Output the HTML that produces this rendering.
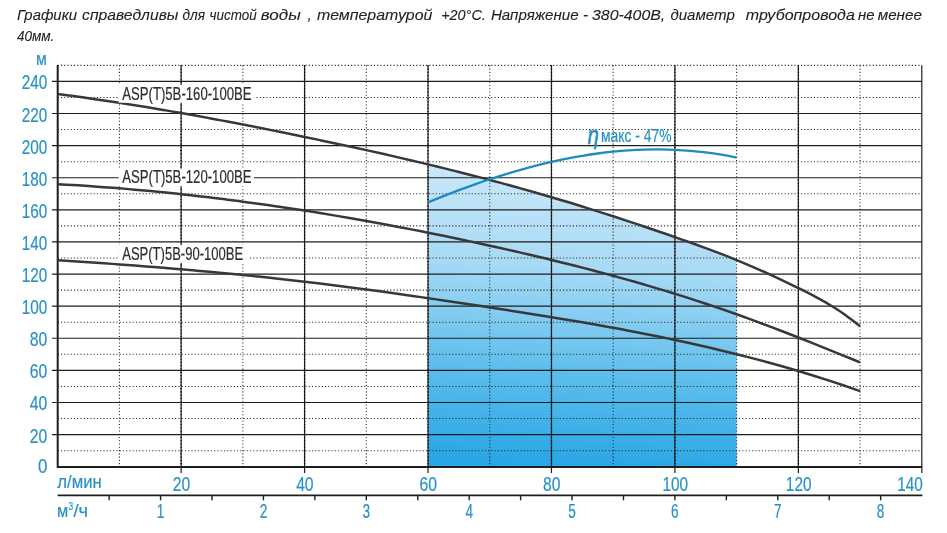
<!DOCTYPE html>
<html lang="ru"><head><meta charset="utf-8"><title>ASP(T)5B</title>
<style>html,body{margin:0;padding:0;background:#fff;}body{width:947px;height:533px;overflow:hidden;font-family:"Liberation Sans",sans-serif;}svg{display:block;will-change:transform;}</style>
</head><body>
<svg width="947" height="533" viewBox="0 0 947 533">
<defs><linearGradient id="g" x1="590" y1="160" x2="570" y2="468" gradientUnits="userSpaceOnUse"><stop offset="0" stop-color="#d0eaf9"/><stop offset="0.35" stop-color="#a7daf5"/><stop offset="0.7" stop-color="#5cbdec"/><stop offset="1" stop-color="#28a6e5"/></linearGradient></defs>
<rect width="947" height="533" fill="#fff"/>
<path d="M428.03 164.37C433.17 165.63 438.32 166.86 443.46 168.13C448.6 169.4 453.75 170.68 458.89 171.98C464.03 173.27 469.18 174.58 474.32 175.91C479.46 177.24 484.61 178.59 489.75 179.95C494.89 181.31 500.04 182.69 505.18 184.09C510.32 185.49 515.47 186.91 520.61 188.34C525.75 189.78 530.9 191.23 536.04 192.71C541.18 194.18 546.33 195.68 551.47 197.19C556.61 198.71 561.76 200.24 566.9 201.8C572.05 203.35 577.19 204.93 582.33 206.52C587.48 208.11 592.62 209.73 597.76 211.36C602.91 212.99 608.05 214.64 613.19 216.31C618.34 217.97 623.48 219.66 628.62 221.36C633.77 223.06 638.91 224.78 644.05 226.51C649.2 228.24 654.34 229.99 659.48 231.76C664.63 233.52 669.77 235.3 674.91 237.09C680.06 238.89 685.2 240.69 690.34 242.53C695.49 244.37 700.63 246.22 705.77 248.12C710.92 250.02 716.06 251.95 721.21 253.95C726.35 255.94 731.49 258.03 736.64 260.08L736.64 466.7 L428.03 466.7 Z" fill="url(#g)"/>
<g stroke="#262626" stroke-width="1.05" stroke-dasharray="1.1 2.16" fill="none"><path d="M57.7 450.65H921.8"/><path d="M57.7 418.54H921.8"/><path d="M57.7 386.43H921.8"/><path d="M57.7 354.32H921.8"/><path d="M57.7 322.21H921.8"/><path d="M57.7 290.1H921.8"/><path d="M57.7 258H921.8"/><path d="M57.7 225.89H921.8"/><path d="M57.7 193.78H921.8"/><path d="M57.7 161.67H921.8"/><path d="M57.7 129.56H921.8"/><path d="M57.7 97.45H921.8"/><path d="M57.7 65.35H921.8"/><path d="M119.42 65.35V466.7"/><path d="M242.86 65.35V466.7"/><path d="M366.31 65.35V466.7"/><path d="M489.75 65.35V466.7"/><path d="M613.19 65.35V466.7"/><path d="M736.64 65.35V466.7"/><path d="M860.08 65.35V466.7"/></g>
<g stroke="#1e1e1e" stroke-width="1.2" fill="none"><path d="M52 434.59H921.8"/><path d="M52 402.48H921.8"/><path d="M52 370.38H921.8"/><path d="M52 338.27H921.8"/><path d="M52 306.16H921.8"/><path d="M52 274.05H921.8"/><path d="M52 241.94H921.8"/><path d="M52 209.83H921.8"/><path d="M52 177.73H921.8"/><path d="M52 145.62H921.8"/><path d="M52 113.51H921.8"/><path d="M52 81.4H921.8"/><path d="M181.14 65.35V473"/><path d="M304.59 65.35V473"/><path d="M428.03 65.35V473"/><path d="M551.47 65.35V473"/><path d="M674.91 65.35V473"/><path d="M798.36 65.35V473"/><path d="M921.8 65.35V473"/></g>
<g stroke="#111" stroke-width="1.4" stroke-dasharray="1.1 2.16" fill="none"><path d="M181.14 65.35V466.7"/><path d="M304.59 65.35V466.7"/><path d="M428.03 65.35V466.7"/><path d="M551.47 65.35V466.7"/><path d="M674.91 65.35V466.7"/><path d="M798.36 65.35V466.7"/></g>
<path d="M57.7 65.05V466.9H922.4" stroke="#1e1e1e" stroke-width="2" fill="none"/>
<path d="M57.7 495.3H922.4" stroke="#1e1e1e" stroke-width="1.8" fill="none"/>
<g stroke="#1e1e1e" stroke-width="1.4" fill="none"><path d="M109.13 495.3V500.3"/><path d="M160.57 495.3V500.3"/><path d="M212 495.3V500.3"/><path d="M263.44 495.3V500.3"/><path d="M314.87 495.3V500.3"/><path d="M366.31 495.3V500.3"/><path d="M417.74 495.3V500.3"/><path d="M469.18 495.3V500.3"/><path d="M520.61 495.3V500.3"/><path d="M572.05 495.3V500.3"/><path d="M623.48 495.3V500.3"/><path d="M674.91 495.3V500.3"/><path d="M726.35 495.3V500.3"/><path d="M777.78 495.3V500.3"/><path d="M829.22 495.3V500.3"/><path d="M880.65 495.3V500.3"/></g>
<g stroke="#38383a" stroke-width="2.5" fill="none" stroke-linecap="butt"><path d="M57.7 94.04C62.84 94.72 67.99 95.38 73.13 96.08C78.27 96.78 83.42 97.5 88.56 98.23C93.7 98.96 98.85 99.71 103.99 100.48C109.13 101.24 114.28 102.02 119.42 102.82C124.56 103.62 129.71 104.43 134.85 105.25C140 106.08 145.14 106.92 150.28 107.77C155.43 108.63 160.57 109.5 165.71 110.38C170.86 111.26 176 112.16 181.14 113.06C186.29 113.97 191.43 114.89 196.57 115.82C201.72 116.76 206.86 117.7 212 118.66C217.15 119.61 222.29 120.58 227.43 121.56C232.58 122.53 237.72 123.52 242.86 124.52C248.01 125.52 253.15 126.53 258.29 127.54C263.44 128.56 268.58 129.59 273.72 130.62C278.87 131.66 284.01 132.7 289.16 133.75C294.3 134.8 299.44 135.86 304.59 136.93C309.73 138 314.87 139.07 320.02 140.15C325.16 141.24 330.3 142.33 335.45 143.43C340.59 144.53 345.73 145.64 350.88 146.75C356.02 147.87 361.16 149 366.31 150.14C371.45 151.28 376.59 152.43 381.74 153.59C386.88 154.75 392.02 155.92 397.17 157.11C402.31 158.3 407.45 159.49 412.6 160.7C417.74 161.91 422.89 163.14 428.03 164.37C433.17 165.61 438.32 166.86 443.46 168.13C448.6 169.4 453.75 170.68 458.89 171.98C464.03 173.27 469.18 174.58 474.32 175.91C479.46 177.24 484.61 178.59 489.75 179.95C494.89 181.31 500.04 182.69 505.18 184.09C510.32 185.49 515.47 186.91 520.61 188.34C525.75 189.78 530.9 191.23 536.04 192.71C541.18 194.18 546.33 195.68 551.47 197.19C556.61 198.71 561.76 200.24 566.9 201.8C572.05 203.35 577.19 204.93 582.33 206.52C587.48 208.11 592.62 209.73 597.76 211.36C602.91 212.99 608.05 214.64 613.19 216.31C618.34 217.97 623.48 219.66 628.62 221.36C633.77 223.06 638.91 224.78 644.05 226.51C649.2 228.24 654.34 229.99 659.48 231.76C664.63 233.52 669.77 235.3 674.91 237.09C680.06 238.89 685.2 240.69 690.34 242.53C695.49 244.37 700.63 246.22 705.77 248.12C710.92 250.02 716.06 251.95 721.21 253.95C726.35 255.94 731.49 257.97 736.64 260.08C741.78 262.18 746.92 264.35 752.07 266.57C757.21 268.79 762.35 271.08 767.5 273.41C772.64 275.75 777.78 278.14 782.93 280.58C788.07 283.02 793.21 285.5 798.36 288.04C803.5 290.59 808.64 293.13 813.79 295.87C818.93 298.61 824.07 301.39 829.22 304.49C834.36 307.58 839.5 310.81 844.65 314.43C849.79 318.06 854.94 322.3 860.08 326.23"/><path d="M57.7 184.18C62.84 184.48 67.99 184.75 73.13 185.07C78.27 185.38 83.42 185.71 88.56 186.06C93.7 186.41 98.85 186.77 103.99 187.16C109.13 187.54 114.28 187.94 119.42 188.36C124.56 188.78 129.71 189.21 134.85 189.67C140 190.12 145.14 190.59 150.28 191.08C155.43 191.57 160.57 192.07 165.71 192.59C170.86 193.11 176 193.65 181.14 194.21C186.29 194.76 191.43 195.33 196.57 195.92C201.72 196.51 206.86 197.11 212 197.73C217.15 198.35 222.29 198.99 227.43 199.64C232.58 200.29 237.72 200.96 242.86 201.65C248.01 202.33 253.15 203.03 258.29 203.75C263.44 204.46 268.58 205.19 273.72 205.94C278.87 206.68 284.01 207.44 289.16 208.22C294.3 209 299.44 209.79 304.59 210.59C309.73 211.4 314.87 212.22 320.02 213.06C325.16 213.89 330.3 214.74 335.45 215.61C340.59 216.47 345.73 217.35 350.88 218.25C356.02 219.14 361.16 220.05 366.31 220.97C371.45 221.89 376.59 222.83 381.74 223.78C386.88 224.73 392.02 225.69 397.17 226.67C402.31 227.64 407.45 228.63 412.6 229.64C417.74 230.64 422.89 231.66 428.03 232.69C433.17 233.72 438.32 234.76 443.46 235.82C448.6 236.88 453.75 237.95 458.89 239.03C464.03 240.11 469.18 241.21 474.32 242.32C479.46 243.42 484.61 244.54 489.75 245.68C494.89 246.81 500.04 247.95 505.18 249.11C510.32 250.27 515.47 251.44 520.61 252.63C525.75 253.81 530.9 255.01 536.04 256.23C541.18 257.45 546.33 258.68 551.47 259.93C556.61 261.18 561.76 262.45 566.9 263.73C572.05 265.02 577.19 266.32 582.33 267.64C587.48 268.97 592.62 270.31 597.76 271.67C602.91 273.03 608.05 274.41 613.19 275.82C618.34 277.22 623.48 278.65 628.62 280.1C633.77 281.55 638.91 283.02 644.05 284.52C649.2 286.01 654.34 287.53 659.48 289.08C664.63 290.63 669.77 292.2 674.91 293.79C680.06 295.39 685.2 297.01 690.34 298.67C695.49 300.32 700.63 302 705.77 303.7C710.92 305.41 716.06 307.15 721.21 308.91C726.35 310.68 731.49 312.48 736.64 314.3C741.78 316.13 746.92 317.99 752.07 319.88C757.21 321.76 762.35 323.68 767.5 325.61C772.64 327.55 777.78 329.51 782.93 331.5C788.07 333.48 793.21 335.48 798.36 337.5C803.5 339.52 808.64 341.56 813.79 343.61C818.93 345.66 824.07 347.72 829.22 349.8C834.36 351.87 839.5 353.95 844.65 356.04C849.79 358.13 854.94 360.23 860.08 362.33"/><path d="M57.7 260.19C62.84 260.52 67.99 260.85 73.13 261.19C78.27 261.53 83.42 261.87 88.56 262.22C93.7 262.57 98.85 262.93 103.99 263.29C109.13 263.65 114.28 264.02 119.42 264.4C124.56 264.78 129.71 265.16 134.85 265.55C140 265.94 145.14 266.34 150.28 266.75C155.43 267.16 160.57 267.57 165.71 268C170.86 268.42 176 268.85 181.14 269.29C186.29 269.73 191.43 270.18 196.57 270.64C201.72 271.1 206.86 271.56 212 272.04C217.15 272.52 222.29 273 227.43 273.5C232.58 273.99 237.72 274.5 242.86 275.02C248.01 275.53 253.15 276.06 258.29 276.59C263.44 277.13 268.58 277.68 273.72 278.24C278.87 278.8 284.01 279.37 289.16 279.95C294.3 280.53 299.44 281.12 304.59 281.73C309.73 282.33 314.87 282.95 320.02 283.58C325.16 284.2 330.3 284.84 335.45 285.49C340.59 286.14 345.73 286.8 350.88 287.47C356.02 288.14 361.16 288.82 366.31 289.51C371.45 290.2 376.59 290.9 381.74 291.6C386.88 292.31 392.02 293.02 397.17 293.74C402.31 294.47 407.45 295.2 412.6 295.93C417.74 296.67 422.89 297.41 428.03 298.16C433.17 298.91 438.32 299.67 443.46 300.43C448.6 301.2 453.75 301.96 458.89 302.74C464.03 303.51 469.18 304.29 474.32 305.07C479.46 305.85 484.61 306.64 489.75 307.43C494.89 308.21 500.04 309.01 505.18 309.81C510.32 310.6 515.47 311.41 520.61 312.22C525.75 313.03 530.9 313.84 536.04 314.67C541.18 315.49 546.33 316.32 551.47 317.17C556.61 318.01 561.76 318.86 566.9 319.72C572.05 320.58 577.19 321.46 582.33 322.34C587.48 323.23 592.62 324.13 597.76 325.04C602.91 325.95 608.05 326.88 613.19 327.82C618.34 328.76 623.48 329.72 628.62 330.7C633.77 331.67 638.91 332.66 644.05 333.67C649.2 334.68 654.34 335.71 659.48 336.76C664.63 337.81 669.77 338.88 674.91 339.97C680.06 341.06 685.2 342.17 690.34 343.31C695.49 344.44 700.63 345.6 705.77 346.78C710.92 347.97 716.06 349.17 721.21 350.41C726.35 351.64 731.49 352.9 736.64 354.19C741.78 355.47 746.92 356.79 752.07 358.13C757.21 359.48 762.35 360.85 767.5 362.25C772.64 363.65 777.78 365.09 782.93 366.55C788.07 368.02 793.21 369.52 798.36 371.05C803.5 372.58 808.64 374.15 813.79 375.75C818.93 377.35 824.07 378.98 829.22 380.65C834.36 382.33 839.5 384.03 844.65 385.78C849.79 387.53 854.94 389.35 860.08 391.14"/></g>
<path d="M428 202.41C433.14 200.32 438.29 198.19 443.43 196.15C448.58 194.11 453.72 192.13 458.86 190.19C464.01 188.26 469.15 186.38 474.3 184.56C479.44 182.74 484.58 180.97 489.73 179.27C494.87 177.57 500.01 175.92 505.16 174.34C510.3 172.76 515.45 171.24 520.59 169.8C525.73 168.35 530.88 166.96 536.02 165.65C541.17 164.34 546.31 163.1 551.45 161.93C556.6 160.77 561.74 159.67 566.89 158.66C572.03 157.64 577.17 156.7 582.32 155.84C587.46 154.99 592.61 154.21 597.75 153.51C602.89 152.82 608.04 152.21 613.18 151.69C618.33 151.17 623.47 150.73 628.61 150.38C633.76 150.04 638.9 149.78 644.04 149.62C649.19 149.46 654.33 149.39 659.48 149.42C664.62 149.46 669.76 149.58 674.91 149.81C680.05 150.04 685.2 150.37 690.34 150.8C695.48 151.23 700.63 151.77 705.77 152.41C710.92 153.06 716.06 153.81 721.2 154.67C726.35 155.53 731.49 156.61 736.64 157.59" stroke="#1c8cc0" stroke-width="2.3" fill="none"/>
<g style="font-family:'Liberation Sans',sans-serif" stroke-width="0.2" paint-order="stroke">
<text x="47.3" y="472.8" font-size="20.6" fill="#2890c3" stroke="#2890c3" text-anchor="end" textLength="9.4" lengthAdjust="spacingAndGlyphs">0</text>
<text x="47.3" y="442.59" font-size="20.6" fill="#2890c3" stroke="#2890c3" text-anchor="end" textLength="17.5" lengthAdjust="spacingAndGlyphs">20</text>
<text x="47.3" y="410.48" font-size="20.6" fill="#2890c3" stroke="#2890c3" text-anchor="end" textLength="17.5" lengthAdjust="spacingAndGlyphs">40</text>
<text x="47.3" y="378.38" font-size="20.6" fill="#2890c3" stroke="#2890c3" text-anchor="end" textLength="17.5" lengthAdjust="spacingAndGlyphs">60</text>
<text x="47.3" y="346.27" font-size="20.6" fill="#2890c3" stroke="#2890c3" text-anchor="end" textLength="17.5" lengthAdjust="spacingAndGlyphs">80</text>
<text x="47.3" y="314.16" font-size="20.6" fill="#2890c3" stroke="#2890c3" text-anchor="end" textLength="25.6" lengthAdjust="spacingAndGlyphs">100</text>
<text x="47.3" y="282.05" font-size="20.6" fill="#2890c3" stroke="#2890c3" text-anchor="end" textLength="25.6" lengthAdjust="spacingAndGlyphs">120</text>
<text x="47.3" y="249.94" font-size="20.6" fill="#2890c3" stroke="#2890c3" text-anchor="end" textLength="25.6" lengthAdjust="spacingAndGlyphs">140</text>
<text x="47.3" y="217.83" font-size="20.6" fill="#2890c3" stroke="#2890c3" text-anchor="end" textLength="25.6" lengthAdjust="spacingAndGlyphs">160</text>
<text x="47.3" y="185.73" font-size="20.6" fill="#2890c3" stroke="#2890c3" text-anchor="end" textLength="25.6" lengthAdjust="spacingAndGlyphs">180</text>
<text x="47.3" y="153.62" font-size="20.6" fill="#2890c3" stroke="#2890c3" text-anchor="end" textLength="25.6" lengthAdjust="spacingAndGlyphs">200</text>
<text x="47.3" y="121.51" font-size="20.6" fill="#2890c3" stroke="#2890c3" text-anchor="end" textLength="25.6" lengthAdjust="spacingAndGlyphs">220</text>
<text x="47.3" y="89.4" font-size="20.6" fill="#2890c3" stroke="#2890c3" text-anchor="end" textLength="25.6" lengthAdjust="spacingAndGlyphs">240</text>
<text x="46.8" y="65" font-size="18.5" fill="#2890c3" stroke="#2890c3" text-anchor="end" textLength="10.8" lengthAdjust="spacingAndGlyphs">м</text>
<text x="181.44" y="491.2" font-size="20.6" fill="#2890c3" stroke="#2890c3" text-anchor="middle" textLength="17.5" lengthAdjust="spacingAndGlyphs">20</text>
<text x="304.89" y="491.2" font-size="20.6" fill="#2890c3" stroke="#2890c3" text-anchor="middle" textLength="17.5" lengthAdjust="spacingAndGlyphs">40</text>
<text x="428.33" y="491.2" font-size="20.6" fill="#2890c3" stroke="#2890c3" text-anchor="middle" textLength="17.5" lengthAdjust="spacingAndGlyphs">60</text>
<text x="551.77" y="491.2" font-size="20.6" fill="#2890c3" stroke="#2890c3" text-anchor="middle" textLength="17.5" lengthAdjust="spacingAndGlyphs">80</text>
<text x="675.21" y="491.2" font-size="20.6" fill="#2890c3" stroke="#2890c3" text-anchor="middle" textLength="25.6" lengthAdjust="spacingAndGlyphs">100</text>
<text x="798.66" y="491.2" font-size="20.6" fill="#2890c3" stroke="#2890c3" text-anchor="middle" textLength="25.6" lengthAdjust="spacingAndGlyphs">120</text>
<text x="922.9" y="491.2" font-size="20.6" fill="#2890c3" stroke="#2890c3" text-anchor="end" textLength="25.6" lengthAdjust="spacingAndGlyphs">140</text>
<text x="57.3" y="488.4" font-size="19" fill="#2890c3" stroke="#2890c3" text-anchor="start" textLength="44.4" lengthAdjust="spacingAndGlyphs">л/мин</text>
<text x="160.57" y="517.8" font-size="20.6" fill="#2890c3" stroke="#2890c3" text-anchor="middle" textLength="7.6" lengthAdjust="spacingAndGlyphs">1</text>
<text x="263.44" y="517.8" font-size="20.6" fill="#2890c3" stroke="#2890c3" text-anchor="middle" textLength="7.6" lengthAdjust="spacingAndGlyphs">2</text>
<text x="366.31" y="517.8" font-size="20.6" fill="#2890c3" stroke="#2890c3" text-anchor="middle" textLength="7.6" lengthAdjust="spacingAndGlyphs">3</text>
<text x="469.18" y="517.8" font-size="20.6" fill="#2890c3" stroke="#2890c3" text-anchor="middle" textLength="7.6" lengthAdjust="spacingAndGlyphs">4</text>
<text x="572.05" y="517.8" font-size="20.6" fill="#2890c3" stroke="#2890c3" text-anchor="middle" textLength="7.6" lengthAdjust="spacingAndGlyphs">5</text>
<text x="674.91" y="517.8" font-size="20.6" fill="#2890c3" stroke="#2890c3" text-anchor="middle" textLength="7.6" lengthAdjust="spacingAndGlyphs">6</text>
<text x="777.78" y="517.8" font-size="20.6" fill="#2890c3" stroke="#2890c3" text-anchor="middle" textLength="7.6" lengthAdjust="spacingAndGlyphs">7</text>
<text x="880.65" y="517.8" font-size="20.6" fill="#2890c3" stroke="#2890c3" text-anchor="middle" textLength="7.6" lengthAdjust="spacingAndGlyphs">8</text>
<text x="57" y="516.8" font-size="19" fill="#2890c3" stroke="#2890c3" text-anchor="start" textLength="11.2" lengthAdjust="spacingAndGlyphs">м</text>
<text x="68.6" y="509.5" font-size="11.5" fill="#2890c3" stroke="#2890c3" text-anchor="start" textLength="4.6" lengthAdjust="spacingAndGlyphs">3</text>
<text x="73.4" y="516.8" font-size="19" fill="#2890c3" stroke="#2890c3" text-anchor="start" textLength="14.6" lengthAdjust="spacingAndGlyphs">/ч</text>
<rect x="118.6" y="84.9" width="136" height="17.8" fill="#fff"/>
<text x="122.2" y="99.6" font-size="18.6" fill="#2d2d2d" stroke="#2d2d2d" text-anchor="start" textLength="129.4" lengthAdjust="spacingAndGlyphs">ASP(T)5B-160-100BE</text>
<rect x="118.6" y="168.6" width="135.4" height="17.8" fill="#fff"/>
<text x="122.2" y="183.3" font-size="18.6" fill="#2d2d2d" stroke="#2d2d2d" text-anchor="start" textLength="129.4" lengthAdjust="spacingAndGlyphs">ASP(T)5B-120-100BE</text>
<rect x="118.6" y="245.1" width="131.4" height="17.8" fill="#fff"/>
<text x="122.2" y="259.8" font-size="18.6" fill="#2d2d2d" stroke="#2d2d2d" text-anchor="start" textLength="121" lengthAdjust="spacingAndGlyphs">ASP(T)5B-90-100BE</text>
<text x="587.8" y="143.6" font-size="26" fill="#2890c3" stroke="#2890c3" text-anchor="start" textLength="11.2" lengthAdjust="spacingAndGlyphs" font-style="italic" stroke-width="0.7">η</text>
<text x="601" y="142.4" font-size="18.6" fill="#2890c3" stroke="#2890c3" text-anchor="start" textLength="70.5" lengthAdjust="spacingAndGlyphs">макс - 47%</text>
<text x="16.9" y="19.6" font-size="15.3" fill="#222" stroke="#222" text-anchor="start" textLength="60.1" lengthAdjust="spacingAndGlyphs" font-style="italic" stroke-width="0.1">Графики</text>
<text x="82.1" y="19.6" font-size="15.3" fill="#222" stroke="#222" text-anchor="start" textLength="96.3" lengthAdjust="spacingAndGlyphs" font-style="italic" stroke-width="0.1">справедливы</text>
<text x="182.4" y="19.6" font-size="15.3" fill="#222" stroke="#222" text-anchor="start" textLength="22.6" lengthAdjust="spacingAndGlyphs" font-style="italic" stroke-width="0.1">для</text>
<text x="209.5" y="19.6" font-size="15.3" fill="#222" stroke="#222" text-anchor="start" textLength="47.3" lengthAdjust="spacingAndGlyphs" font-style="italic" stroke-width="0.1">чистой</text>
<text x="260.8" y="19.6" font-size="15.3" fill="#222" stroke="#222" text-anchor="start" textLength="39.9" lengthAdjust="spacingAndGlyphs" font-style="italic" stroke-width="0.1">воды</text>
<text x="307.4" y="19.6" font-size="15.3" fill="#222" stroke="#222" text-anchor="start" font-style="italic" stroke-width="0.1">,</text>
<text x="316.9" y="19.6" font-size="15.3" fill="#222" stroke="#222" text-anchor="start" textLength="115.5" lengthAdjust="spacingAndGlyphs" font-style="italic" stroke-width="0.1">температурой</text>
<text x="441.2" y="19.6" font-size="15.3" fill="#222" stroke="#222" text-anchor="start" textLength="44.6" lengthAdjust="spacingAndGlyphs" font-style="italic" stroke-width="0.1">+20°С.</text>
<text x="490.9" y="19.6" font-size="15.3" fill="#222" stroke="#222" text-anchor="start" textLength="87.8" lengthAdjust="spacingAndGlyphs" font-style="italic" stroke-width="0.1">Напряжение</text>
<text x="583" y="19.6" font-size="15.3" fill="#222" stroke="#222" text-anchor="start" font-style="italic" stroke-width="0.1">-</text>
<text x="592" y="19.6" font-size="15.3" fill="#222" stroke="#222" text-anchor="start" textLength="73.2" lengthAdjust="spacingAndGlyphs" font-style="italic" stroke-width="0.1">380-400В,</text>
<text x="670.4" y="19.6" font-size="15.3" fill="#222" stroke="#222" text-anchor="start" textLength="64.4" lengthAdjust="spacingAndGlyphs" font-style="italic" stroke-width="0.1">диаметр</text>
<text x="745.8" y="19.6" font-size="15.3" fill="#222" stroke="#222" text-anchor="start" textLength="109" lengthAdjust="spacingAndGlyphs" font-style="italic" stroke-width="0.1">трубопровода</text>
<text x="858" y="19.6" font-size="15.3" fill="#222" stroke="#222" text-anchor="start" textLength="16.6" lengthAdjust="spacingAndGlyphs" font-style="italic" stroke-width="0.1">не</text>
<text x="877.7" y="19.6" font-size="15.3" fill="#222" stroke="#222" text-anchor="start" textLength="44.3" lengthAdjust="spacingAndGlyphs" font-style="italic" stroke-width="0.1">менее</text>
<text x="16.9" y="41.2" font-size="15.3" fill="#222" stroke="#222" text-anchor="start" textLength="37.5" lengthAdjust="spacingAndGlyphs" font-style="italic" stroke-width="0.1">40мм.</text>
</g>
</svg>
</body></html>
